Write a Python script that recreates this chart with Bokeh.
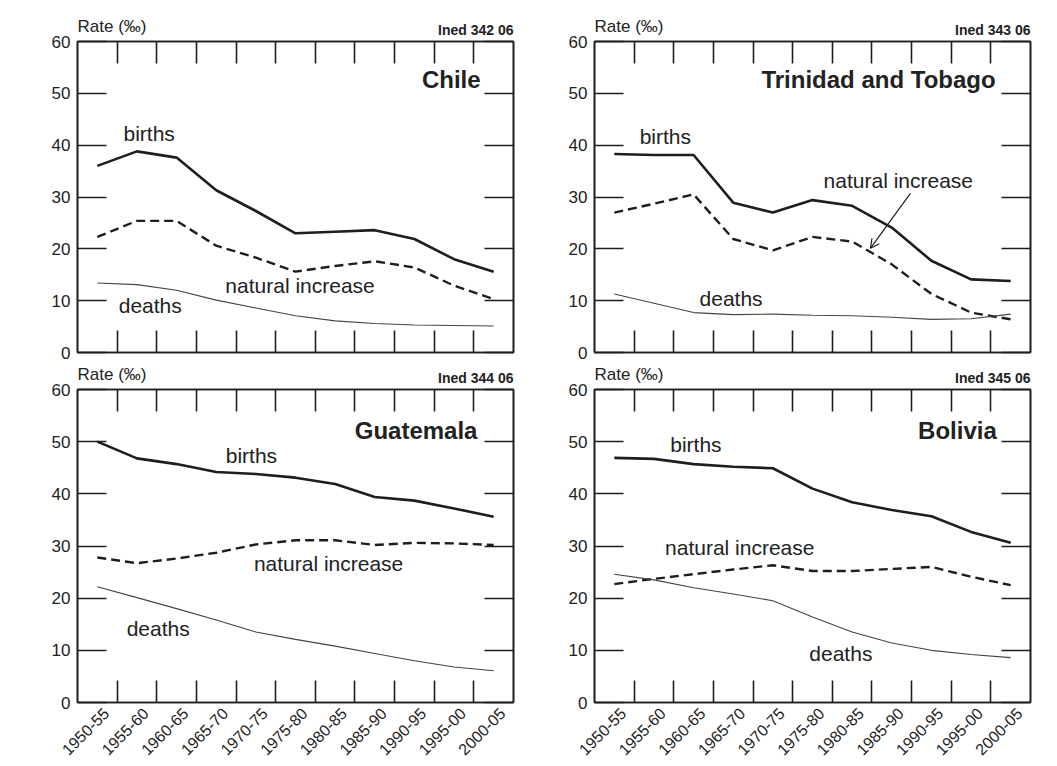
import math
from bokeh.plotting import figure
from bokeh.models import Range1d, LinearAxis, FixedTicker, Label, Arrow, OpenHead, Title
from bokeh.layouts import column, row
from bokeh.embed import file_html
from bokeh.resources import INLINE

# ---------------- data ----------------
periods = ["1950-55", "1955-60", "1960-65", "1965-70", "1970-75", "1975-80",
           "1980-85", "1985-90", "1990-95", "1995-00", "2000-05"]
y_ticks = [0, 10, 20, 30, 40, 50, 60]

chile_births = [36.0, 38.8, 37.6, 31.3, 27.3, 23.0, 23.3, 23.6, 21.9, 18.0, 15.6]
chile_natinc = [22.3, 25.4, 25.4, 20.6, 18.3, 15.6, 16.7, 17.6, 16.4, 12.9, 10.3]
chile_deaths = [13.4, 13.1, 12.0, 10.1, 8.6, 7.1, 6.1, 5.6, 5.3, 5.2, 5.1]

trin_births = [38.3, 38.1, 38.1, 28.9, 27.0, 29.4, 28.3, 24.1, 17.7, 14.1, 13.8]
trin_natinc = [27.0, 28.7, 30.5, 21.9, 19.7, 22.3, 21.4, 17.0, 11.3, 7.7, 6.4]
trin_deaths = [11.3, 9.5, 7.7, 7.3, 7.4, 7.2, 7.1, 6.8, 6.4, 6.5, 7.4]

guat_births = [50.0, 46.8, 45.7, 44.2, 43.8, 43.1, 41.9, 39.4, 38.7, 37.2, 35.6]
guat_natinc = [27.8, 26.7, 27.6, 28.7, 30.3, 31.1, 31.1, 30.2, 30.6, 30.5, 30.2]
guat_deaths = [22.2, 20.1, 18.0, 15.8, 13.5, 12.1, 10.8, 9.4, 8.0, 6.8, 6.1]

boli_births = [46.9, 46.7, 45.7, 45.2, 44.9, 41.0, 38.4, 36.9, 35.7, 32.7, 30.6]
boli_natinc = [22.7, 23.7, 24.6, 25.5, 26.3, 25.2, 25.2, 25.6, 26.0, 24.1, 22.5]
boli_deaths = [24.6, 23.5, 22.0, 20.8, 19.5, 16.4, 13.5, 11.4, 10.0, 9.2, 8.6]

countries = ["Chile", "Trinidad and Tobago", "Guatemala", "Bolivia"]
codes = ["Ined 342 06", "Ined 343 06", "Ined 344 06", "Ined 345 06"]
y_title = "Rate (‰)"

# label anchors (x in period index, y in rate)
births_pos = [(0.66, 42.3), (0.64, 41.6), (3.24, 47.4), (1.41, 49.5)]
natinc_pos = [(3.23, 13.0), (5.28, 33.1), (3.95, 26.6), (1.28, 29.8)]
deaths_pos = [(0.54, 9.0), (2.15, 10.5), (0.74, 14.1), (4.92, 9.3)]
country_pos = [(9.67, 52.7), (9.62, 52.7), (9.59, 52.1), (9.65, 52.1)]
trin_arrow = [(7.47, 30.7), (6.46, 20.1)]

FONT = "Liberation Sans"
INK = "#1e1e1e"
TXT = "#222222"
LABEL_SHIFT = 0.22


def make_panel(k, births, natinc, deaths, show_x, left_b, right_b, top_b, bottom_b, frame_h, arrow=None):
    n = len(periods)
    idx = list(range(n))
    bounds = [i + 0.5 for i in range(n - 1)]
    x_lo, x_hi = -0.5, n - 0.5
    p = figure(frame_width=436, frame_height=frame_h,
               x_range=Range1d(x_lo, x_hi), y_range=Range1d(0, 60),
               x_axis_type=None, y_axis_type=None,
               toolbar_location=None, output_backend="svg",
               min_border_left=left_b, min_border_right=right_b,
               min_border_top=top_b, min_border_bottom=bottom_b,
               background_fill_color="white", border_fill_color="white")
    p.outline_line_color = INK
    p.outline_line_width = 1.6

    # "Rate (‰)" as main title (outermost, left aligned on the frame)
    p.title.text = y_title
    p.title.align = "left"
    p.title.text_font = FONT
    p.title.text_font_size = "17px"
    p.title.text_font_style = "normal"
    p.title.text_color = TXT
    p.title.standoff = -40

    def style(ax):
        ax.axis_line_color = INK
        ax.axis_line_width = 1.6
        ax.major_tick_line_color = INK
        ax.major_tick_line_width = 1.6
        ax.minor_tick_line_color = INK
        ax.minor_tick_line_width = 1.6
        ax.major_label_text_font = FONT
        ax.major_label_text_color = TXT

    # left axis with labels
    la = LinearAxis(ticker=FixedTicker(ticks=y_ticks, minor_ticks=[]))
    style(la)
    la.major_tick_in = 29
    la.major_tick_out = 0
    la.minor_tick_in = 0
    la.minor_tick_out = 0
    la.major_label_text_font_size = "17px"
    la.major_label_standoff = 7
    p.add_layout(la, "left")

    # right axis, ticks only
    ra = LinearAxis(ticker=FixedTicker(ticks=[], minor_ticks=y_ticks))
    style(ra)
    ra.minor_tick_in = 29
    ra.minor_tick_out = 0
    ra.major_tick_in = 0
    ra.major_tick_out = 0
    p.add_layout(ra, "right")

    # top axis: boundary ticks only
    ta = LinearAxis(ticker=FixedTicker(ticks=[], minor_ticks=bounds))
    style(ta)
    ta.minor_tick_in = 22
    ta.minor_tick_out = 0
    ta.major_tick_in = 0
    ta.major_tick_out = 0
    p.add_layout(ta, "above")

    # code, right aligned above the frame
    p.add_layout(Title(text=codes[k], align="right", text_font=FONT,
                       text_font_size="14px", text_font_style="bold",
                       text_color=TXT, standoff=8), "above")

    # bottom axis
    if show_x:
        lab_ticks = [i + LABEL_SHIFT for i in idx]
        ba = LinearAxis(ticker=FixedTicker(ticks=lab_ticks, minor_ticks=bounds))
        ba.major_label_overrides = {t: periods[i] for i, t in enumerate(lab_ticks)}
        ba.major_label_orientation = math.pi / 4
        ba.major_label_text_font_size = "16px"
        ba.major_label_standoff = 8
    else:
        ba = LinearAxis(ticker=FixedTicker(ticks=[], minor_ticks=bounds))
    style(ba)
    ba.minor_tick_in = 22
    ba.minor_tick_out = 0
    ba.major_tick_in = 0
    ba.major_tick_out = 0
    p.add_layout(ba, "below")

    # series
    p.line(idx, births, line_color=INK, line_width=2.6)
    p.line(idx, natinc, line_color=INK, line_width=2.4, line_dash="9 5")
    p.line(idx, deaths, line_color="#444444", line_width=1.1)

    def lab(pos, text, **kw):
        opts = dict(text_font=FONT, text_font_size="21px", text_color=TXT,
                    text_align="left", text_baseline="middle")
        opts.update(kw)
        p.add_layout(Label(x=pos[0], y=pos[1], text=text, **opts))

    lab(births_pos[k], "births")
    lab(natinc_pos[k], "natural increase")
    lab(deaths_pos[k], "deaths")
    lab(country_pos[k], countries[k], text_align="right", text_font_style="bold",
        text_font_size="24px")

    if arrow is not None:
        p.add_layout(Arrow(x_start=arrow[0][0], y_start=arrow[0][1],
                           x_end=arrow[1][0], y_end=arrow[1][1],
                           line_color=INK, line_width=1.2,
                           end=OpenHead(size=9, line_color=INK, line_width=1.2)))
    return p


p1 = make_panel(0, chile_births, chile_natinc, chile_deaths, False, 77, 14, 41, 10, 311)
p2 = make_panel(1, trin_births, trin_natinc, trin_deaths, False, 67, 26, 41, 10, 311, arrow=trin_arrow)
p3 = make_panel(2, guat_births, guat_natinc, guat_deaths, True, 77, 14, 27, 62, 313)
p4 = make_panel(3, boli_births, boli_natinc, boli_deaths, True, 67, 26, 27, 62, 313)

p = column(row(p1, p2), row(p3, p4))

open("out.html", "w").write(file_html(p, INLINE))
